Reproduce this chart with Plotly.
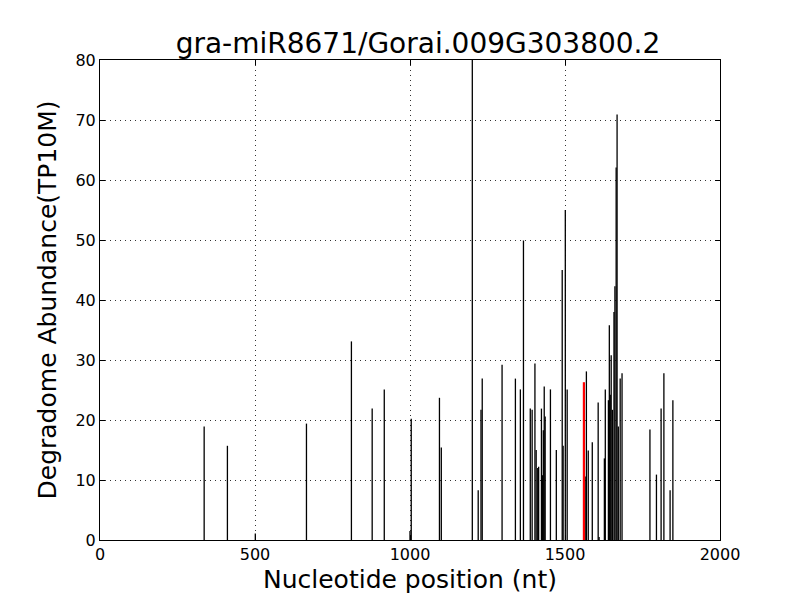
import plotly.graph_objects as go

positions = [336, 411, 501, 666, 811, 878, 917, 1000, 1004, 1095, 1101,
             1201, 1220, 1229, 1233, 1297, 1340, 1356, 1366, 1388, 1394, 1403,
             1407, 1412, 1415, 1424, 1427, 1430, 1433, 1436, 1453, 1472, 1491,
             1494, 1501, 1507, 1565, 1569, 1575, 1588, 1607, 1610, 1627, 1630,
             1640, 1643, 1646, 1649, 1653, 1658, 1661, 1665, 1668, 1672, 1678,
             1684, 1774, 1795, 1810, 1819, 1839, 1848]
abundance = [18.9, 15.7, 1.1, 19.4, 33.1, 21.9, 25.1, 1.5, 20.2, 23.7, 15.4,
             85.0, 8.3, 21.7, 26.9, 29.2, 26.9, 25.1, 49.9, 21.9, 21.7, 29.4,
             15.0, 12.0, 12.2, 21.9, 10.8, 18.3, 25.6, 20.6, 25.1, 15.0, 45.0,
             15.7, 55.0, 25.1, 10.6, 28.1, 14.9, 16.3, 22.9, 0.5, 13.6, 25.1,
             23.3, 35.8, 24.2, 30.8, 21.7, 38.0, 42.3, 62.1, 70.9, 18.9, 26.9,
             27.8, 18.4, 10.9, 21.9, 27.8, 8.3, 23.3]
target_pos = [1561]
target_val = [26.3]

title = "gra-miR8671/Gorai.009G303800.2"
x_label = "Nucleotide position (nt)"
y_label = "Degradome Abundance(TP10M)"


def stems(xs, ys):
    X, Y = [], []
    for a, b in zip(xs, ys):
        X += [a, a, None]
        Y += [0, b, None]
    return X, Y


fig = go.Figure()
bx, by = stems(positions, abundance)
fig.add_trace(go.Scatter(x=bx, y=by, mode="lines",
                         line=dict(color="black", width=1.3), hoverinfo="skip"))
rx, ry = stems(target_pos, target_val)
fig.add_trace(go.Scatter(x=rx, y=ry, mode="lines",
                         line=dict(color="red", width=2.2), hoverinfo="skip"))

axis_common = dict(
    showline=True, linecolor="black", linewidth=1, mirror="ticks",
    ticks="inside", ticklen=5, tickcolor="black",
    showgrid=True, gridcolor="rgba(0,0,0,0.8)", griddash="1px,4px", gridwidth=1,
    zeroline=False, tickfont=dict(size=16, color="black"),
    automargin=False,
)

fig.update_layout(
    width=800, height=600,
    paper_bgcolor="white", plot_bgcolor="white",
    margin=dict(l=92, r=88, t=52, b=68),
    showlegend=False,
    font=dict(family="DejaVu Sans", color="black"),
    title=dict(text=title, x=0.5125, xanchor="center", y=0.942, yanchor="middle",
               font=dict(size=28, color="black")),
    xaxis=dict(range=[0, 2000], dtick=500, tick0=0,
               title=dict(text=x_label, font=dict(size=25), standoff=7),
               **axis_common),
    yaxis=dict(range=[0, 80], dtick=10, tick0=0,
               title=dict(text=y_label, font=dict(size=25), standoff=11),
               **axis_common),
)

fig.write_html("out.html")
